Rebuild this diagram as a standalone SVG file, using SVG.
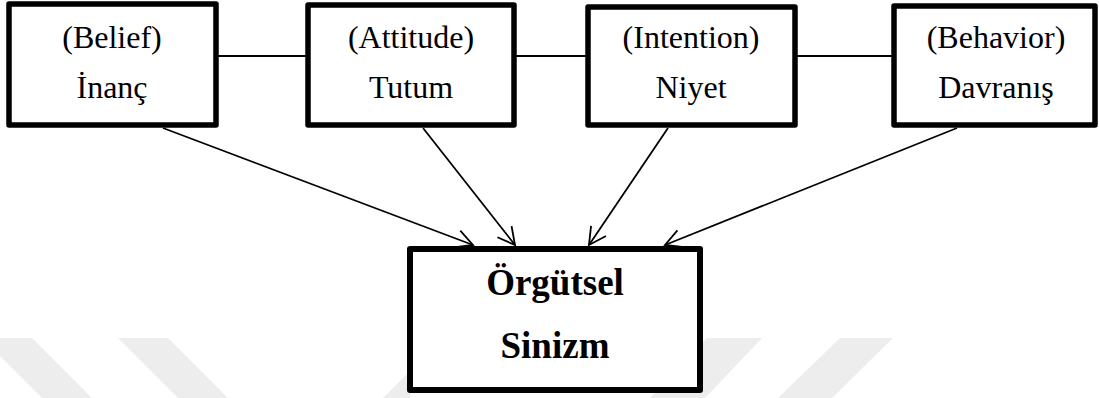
<svg xmlns="http://www.w3.org/2000/svg" width="1099" height="398" viewBox="0 0 1099 398">
  <style>
    .box { fill: #ffffff; stroke: #000000; stroke-width: 5.5; stroke-linejoin: round; }
    .main { stroke-width: 6; }
    .lbl { font-family: "Liberation Serif", "Times New Roman", serif; font-size: 32px; fill: #000000; text-anchor: middle; }
    .big { font-family: "Liberation Serif", "Times New Roman", serif; font-size: 37px; font-weight: bold; fill: #000000; text-anchor: middle; }
    .link { stroke: #000000; stroke-width: 1.8; fill: none; }
    .stripe { fill: #ededed; }
  </style>
  <defs>
    <marker id="arrow" viewBox="0 0 24 24" refX="21" refY="12" markerWidth="24" markerHeight="24" markerUnits="userSpaceOnUse" orient="auto">
      <polyline points="4,3 21,12 4,21" fill="none" stroke="#000000" stroke-width="1.8"/>
    </marker>
  </defs>

  <rect width="1099" height="398" fill="#ffffff"/>

  <!-- background stripes -->
  <g id="stripes">
    <polygon class="stripe" points="-18,338 32,338 92,398 42,398"/>
    <polygon class="stripe" points="118,338 168,338 228,398 178,398"/>
    <polygon class="stripe" points="383,398 410,371 410,398"/>
    <polygon class="stripe" points="707,338 762,338 705,398 650,398"/>
    <polygon class="stripe" points="840,338 893,338 832,398 778,398"/>
  </g>

  <!-- connectors -->
  <g id="connectors">
    <line class="link" x1="216" y1="56" x2="308" y2="56"/>
    <line class="link" x1="514" y1="56" x2="588" y2="56"/>
    <line class="link" x1="795" y1="56" x2="894" y2="56"/>
    <line class="link" x1="163" y1="128" x2="473" y2="245" marker-end="url(#arrow)"/>
    <line class="link" x1="423" y1="128" x2="515" y2="245" marker-end="url(#arrow)"/>
    <line class="link" x1="668" y1="128" x2="589" y2="245" marker-end="url(#arrow)"/>
    <line class="link" x1="957" y1="128" x2="665" y2="245" marker-end="url(#arrow)"/>
  </g>

  <g id="belief">
    <rect class="box" x="9" y="4" width="207" height="121"/>
    <text class="lbl" x="112" y="48">(Belief)</text>
    <text class="lbl" x="112" y="98">İnanç</text>
  </g>

  <g id="attitude">
    <rect class="box" x="308" y="5" width="206" height="120"/>
    <text class="lbl" x="411" y="48">(Attitude)</text>
    <text class="lbl" x="411" y="98">Tutum</text>
  </g>

  <g id="intention">
    <rect class="box" x="588" y="7" width="207" height="118"/>
    <text class="lbl" x="691" y="48">(Intention)</text>
    <text class="lbl" x="691" y="98">Niyet</text>
  </g>

  <g id="behavior">
    <rect class="box" x="894" y="6" width="201" height="119"/>
    <text class="lbl" x="996" y="48">(Behavior)</text>
    <text class="lbl" x="996" y="98">Davranış</text>
  </g>

  <g id="cynicism">
    <rect class="box main" x="410" y="249" width="290" height="141"/>
    <text class="big" x="555" y="295">Örgütsel</text>
    <text class="big" x="555" y="358">Sinizm</text>
  </g>
</svg>
